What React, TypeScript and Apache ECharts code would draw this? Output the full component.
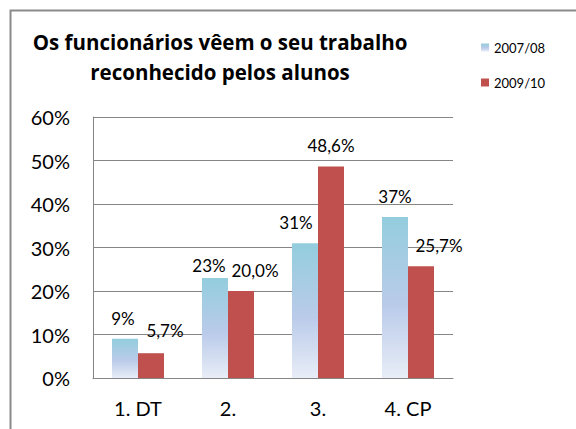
import React, { useEffect, useRef } from "react";
import * as echarts from "echarts";

const categories = ["1. DT", "2.", "3.", "4. CP"];
const series2007 = [9, 23, 31, 37];
const series2009 = [5.7, 20.0, 48.6, 25.7];
const labels2007 = ["9%", "23%", "31%", "37%"];
const labels2009 = ["5,7%", "20,0%", "48,6%", "25,7%"];
const yTicks = { min: 0, max: 60, interval: 10 };
const titleLines = ["Os funcionários vêem o seu trabalho", "reconhecido pelos alunos"];
const seriesNames = ["2007/08", "2009/10"];

// label nudges (x, y) in pixels, as placed in the reference
const nudge2007 = [[-2, 0], [-6, 8], [-9, 0], [0, 0]];
const nudge2009 = [[14, -2], [14, 0], [0, -1], [18, 0]];

const FONT = "Lato, 'Open Sans', sans-serif";
const TITLE_FONT = "'Open Sans', Lato, sans-serif";

export default function App() {
  const ref = useRef<HTMLDivElement>(null);
  useEffect(() => {
    if (!ref.current) return;
    const chart = echarts.init(ref.current, undefined, { renderer: "svg" });
    const blue = new echarts.graphic.LinearGradient(0, 0, 0, 1, [
      { offset: 0, color: "#93CDDD" },
      { offset: 0.55, color: "#BACBEA" },
      { offset: 1, color: "#E8EDF7" },
    ]);
    const mkData = (vals: number[], labs: string[], nudges: number[][]) =>
      vals.map((v, i) => ({
        value: v,
        label: { formatter: labs[i], offset: nudges[i] },
      }));
    chart.setOption({
      animation: false,
      textStyle: { fontFamily: FONT },
      grid: { left: 93, top: 117, right: 123, bottom: 51, containLabel: false },
      legend: {
        orient: "vertical",
        left: 476,
        top: 36,
        itemWidth: 8,
        itemHeight: 8,
        itemGap: 22,
        itemTextGap: 5,
        icon: "rect",
        textStyle: { fontSize: 13, color: "#000", fontFamily: FONT },
        data: seriesNames,
      },
      graphic: [
        {
          type: "rect",
          shape: { x: 10.5, y: 10.5, width: 700, height: 600 },
          style: { fill: "none", stroke: "#8a8a8a", lineWidth: 2 },
          silent: true,
        },
        {
          type: "text",
          x: 220,
          y: 57,
          style: {
            text: titleLines.join("\n"),
            font: `bold 20.5px ${TITLE_FONT}`,
            fill: "#000",
            textAlign: "center",
            textVerticalAlign: "middle",
            lineHeight: 30,
          },
        },
      ],
      xAxis: {
        type: "category",
        data: categories,
        axisLine: { show: true, lineStyle: { color: "#868686", width: 1 } },
        axisTick: { show: false },
        axisLabel: { fontSize: 20, color: "#000", margin: 20, fontFamily: FONT },
      },
      yAxis: {
        type: "value",
        min: yTicks.min,
        max: yTicks.max,
        interval: yTicks.interval,
        axisLine: { show: true, lineStyle: { color: "#868686", width: 1 } },
        axisTick: { show: false },
        splitLine: { show: true, lineStyle: { color: "#868686", width: 1 } },
        axisLabel: { fontSize: 20, color: "#000", margin: 23, formatter: "{value}%", fontFamily: FONT },
      },
      series: [
        {
          name: seriesNames[0],
          type: "bar",
          barWidth: 26,
          barGap: "0%",
          itemStyle: { color: blue },
          label: { show: true, position: "top", distance: 12, fontSize: 17, color: "#000", fontFamily: FONT },
          data: mkData(series2007, labels2007, nudge2007),
        },
        {
          name: seriesNames[1],
          type: "bar",
          barWidth: 26,
          barGap: "0%",
          itemStyle: { color: "#C0504D" },
          label: { show: true, position: "top", distance: 12, fontSize: 17, color: "#000", fontFamily: FONT },
          data: mkData(series2009, labels2009, nudge2009),
        },
      ],
    });
    return () => chart.dispose();
  }, []);
  return (
    <div
      ref={ref}
      style={{ position: "fixed", left: 0, top: 0, width: 576, height: 429, background: "#fff" }}
    />
  );
}
